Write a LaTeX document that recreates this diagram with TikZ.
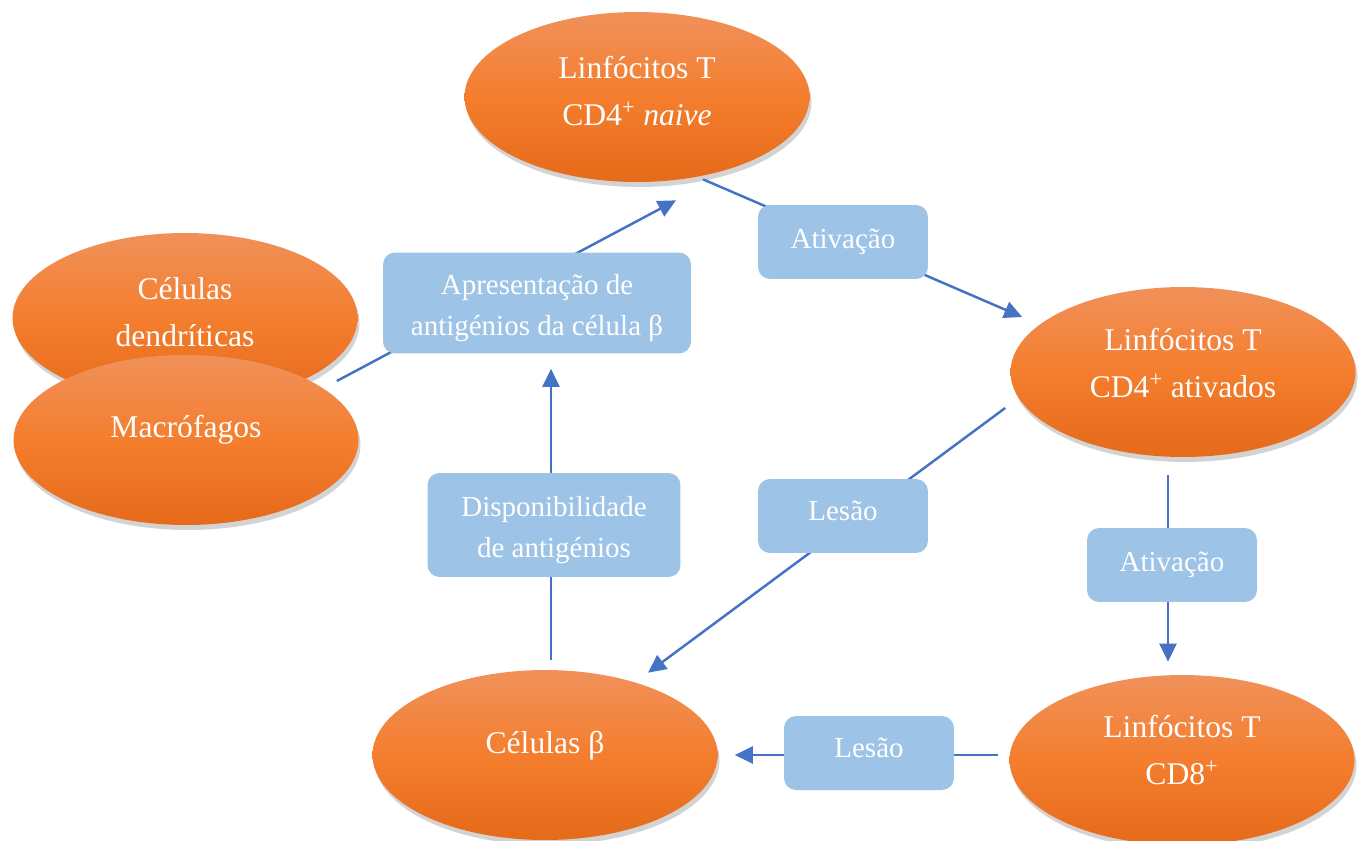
\documentclass[tikz,border=0pt]{standalone}
\usepackage{fontspec}
\setmainfont{Liberation Serif}
\usetikzlibrary{shapes.geometric,arrows.meta,shadows,backgrounds}
\definecolor{orTop}{HTML}{F0915A}
\definecolor{orMid}{HTML}{F47E2E}
\definecolor{orBot}{HTML}{E56A1A}
\definecolor{boxBlue}{HTML}{9DC3E6}
\definecolor{lineBlue}{HTML}{4472C4}
\begin{document}
\begin{tikzpicture}[x=0.02cm, y=-0.02cm,
  cell/.style={ellipse, top color=orTop, bottom color=orBot, middle color=orMid,
               minimum width=6.9cm, minimum height=3.4cm, text=white, align=center,
               font=\fontsize{18}{26.5}\selectfont,
               drop shadow={shadow xshift=0.04cm, shadow yshift=-0.1cm, opacity=0.35}},
  proc/.style={rectangle, rounded corners=0.24cm, fill=boxBlue, text=white, align=center,
               minimum width=3.4cm, minimum height=1.48cm,
               font=\fontsize{16.5}{23.8}\selectfont},
  link/.style={draw=lineBlue, line width=1.4pt},
  arr/.style={link, -{Triangle[length=0.36cm, width=0.34cm]}}]
\useasboundingbox (0,0) rectangle (1365,841);

% cells
\node[cell, text depth=0.24cm](naive) at (637,97) {Linfócitos T\\CD4\textsuperscript{+} \textit{naive}};
\node[cell, text depth=0.36cm](ativ) at (1183,372) {Linfócitos T\\CD4\textsuperscript{+} ativados};
\node[cell, text depth=0.4cm](cd8) at (1182,760) {Linfócitos T\\CD8\textsuperscript{+}};
\node[cell, text depth=0.5cm](beta) at (545,755) {Células β};
\node[cell, text depth=0.23cm](dend) at (185,318) {Células\\dendríticas};
\node[cell, text depth=0.54cm](mac) at (186,440) {Macrófagos};

% steps
\node[proc, minimum width=6.16cm, minimum height=2.02cm, text height=1.44cm](apres) at (537,303) {Apresentação de\\antigénios da célula β};
\node[proc](ativ1) at (843,242) {Ativação};
\node[proc, minimum width=5.06cm, minimum height=2.08cm, text height=1.44cm](disp) at (554,525) {Disponibilidade\\de antigénios};
\node[proc, text depth=0.2cm](les1) at (843,516) {Lesão};
\node[proc](ativ2) at (1172,565) {Ativação};
\node[proc, text depth=0.2cm](les2) at (869,753) {Lesão};

\begin{scope}[on background layer]
\draw[arr] ([shift={(-22,-59)}]mac.east) -- ([shift={(39,18)}]naive.south);
\draw[arr] ([shift={(66,-3)}]naive.south) -- ([shift={(12,-55)}]ativ.west);
\draw[arr] ([shift={(-15,18)}]ativ.south) -- ([shift={(-14,-13)}]cd8.north);
\draw[arr] ([shift={(-5,36)}]ativ.west) -- ([shift={(103,3)}]beta.north);
\draw[arr] ([shift={(-11,-5)}]cd8.west) -- ([shift={(17,0)}]beta.east);
\draw[arr] ([shift={(6,-10)}]beta.north) -- ([shift={(14,15)}]apres.south);
\end{scope}
\end{tikzpicture}
\end{document}
